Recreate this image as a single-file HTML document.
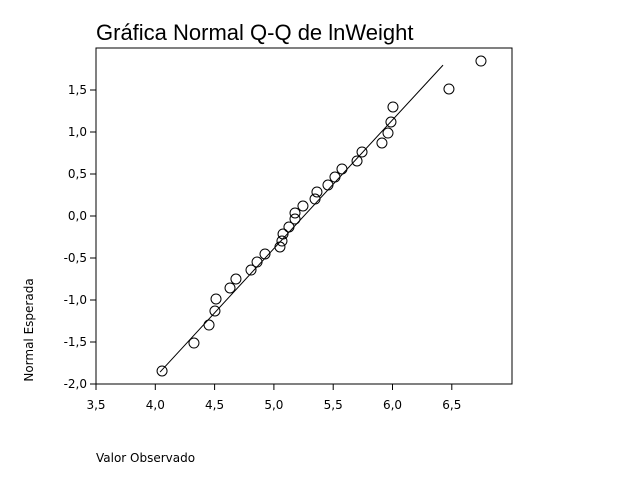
<!DOCTYPE html>
<html><head><meta charset="utf-8"><style>
body{margin:0;background:#fff;width:640px;height:480px;overflow:hidden}
svg{font-family:"DejaVu Sans","Liberation Sans",sans-serif}
</style></head><body>
<svg id="c" width="640" height="480">
<text x="96" y="40" font-size="22" font-family="Liberation Sans, sans-serif" fill="#000">Gráfica Normal Q-Q de lnWeight</text>
<rect x="96" y="48" width="416" height="336" fill="none" stroke="#000" stroke-width="1"/>
<text x="0" y="0" transform="translate(33,330) rotate(-90)" text-anchor="middle" font-size="12">Normal Esperada</text>
<text x="96" y="462" font-size="12">Valor Observado</text>
<g id="ax"></g><g id="marks"></g>
</svg>
<script>
const xTicks=[3.5,4.0,4.5,5.0,5.5,6.0,6.5];
const yTicks=[-2.0,-1.5,-1.0,-0.5,0.0,0.5,1.0,1.5];
const observed=[4.057,4.326,4.453,4.503,4.512,4.630,4.680,4.807,4.858,4.925,5.051,5.068,5.077,5.127,5.178,5.178,5.245,5.347,5.363,5.456,5.515,5.574,5.701,5.743,5.911,5.962,5.987,6.004,6.476,6.746];
const expected=[-1.845,-1.512,-1.298,-1.131,-0.988,-0.857,-0.750,-0.643,-0.548,-0.452,-0.369,-0.298,-0.214,-0.131,-0.036,0.036,0.119,0.202,0.286,0.369,0.464,0.560,0.655,0.762,0.869,0.988,1.119,1.298,1.512,1.845];
const lineMu=5.253, lineSigma=0.653, lineRange=[4.04,6.426];
const NS="http://www.w3.org/2000/svg";
const X=v=>96+(v-3.5)*118.6;
const Y=v=>384-(v+2)*84;
const fmt=v=>v.toFixed(1).replace('.',',');
const ax=document.getElementById('ax'),mk=document.getElementById('marks');
function mkEl(t,a,p){const e=document.createElementNS(NS,t);for(const k in a)e.setAttribute(k,a[k]);p.appendChild(e);return e;}
xTicks.forEach(v=>{
 const l=mkEl('line',{x1:X(v),x2:X(v),y1:384,y2:390,stroke:'#000'},ax);
 
 
 const t=mkEl('text',{x:X(v),y:409,'text-anchor':'middle','font-size':12},ax);t.textContent=fmt(v);
 
 
});
yTicks.forEach(v=>{
 const l=mkEl('line',{x1:90,x2:96,y1:Y(v),y2:Y(v),stroke:'#000'},ax);
 
 
 const t=mkEl('text',{x:87,y:Y(v)+4,'text-anchor':'end','font-size':12},ax);t.textContent=fmt(v);
 
 
});
const ln=mkEl('line',{x1:X(lineRange[0]),y1:Y((lineRange[0]-lineMu)/lineSigma),x2:X(lineRange[1]),y2:Y((lineRange[1]-lineMu)/lineSigma),stroke:'#000','stroke-width':1},mk);


observed.forEach((v,i)=>{
 const c=mkEl('circle',{cx:X(v),cy:Y(expected[i]),r:5,fill:'none',stroke:'#000','stroke-width':1},mk);
 
 
});
</script>
</body></html>
